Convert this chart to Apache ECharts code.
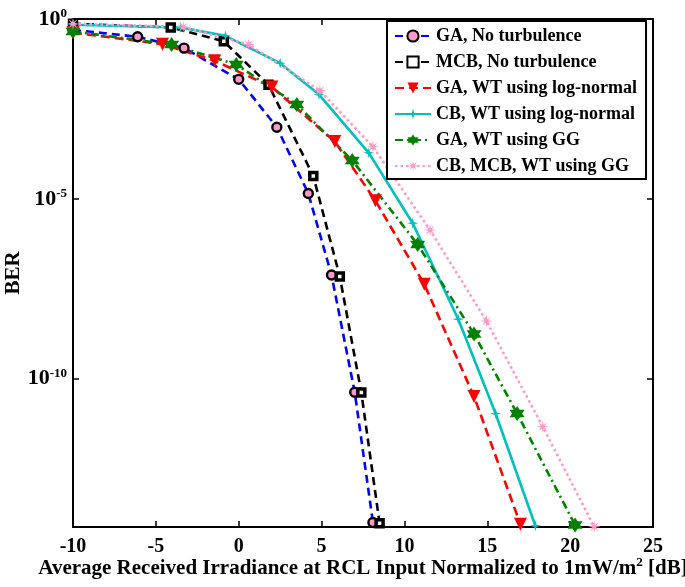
<!DOCTYPE html>
<html>
<head>
<meta charset="utf-8">
<script src="https://cdn.jsdelivr.net/npm/echarts@6/dist/echarts.min.js"></script>
<style>html,body{margin:0;padding:0;background:#fff}#c{width:685px;height:587px}</style>
</head>
<body>
<div id="c"></div>
<script>
// ---- data ----
const seriesNames = ['GA, No turbulence', 'MCB, No turbulence', 'GA, WT using log-normal',
  'CB, WT using log-normal', 'GA, WT using GG', 'CB, MCB, WT using GG'];

const gaNoX   = [-10, -6.1, -3.3, 0, 2.3, 4.2, 5.6, 7.0, 8.1];
const gaNoY   = [0.5, 0.32, 0.155, 0.021, 9.8e-4, 1.4e-5, 7.6e-8, 4.2e-11, 1.0e-14];

const mcbNoX  = [-10, -4.1, -0.9, 1.8, 4.5, 6.1, 7.4, 8.5];
const mcbNoY  = [0.74, 0.58, 0.24, 0.0148, 4.3e-5, 6.9e-8, 4.1e-11, 9.5e-15];

const gaLnX   = [-10, -4.6, -1.45, 2.0, 5.8, 8.25, 11.2, 14.2, 17.0];
const gaLnY   = [0.42, 0.2, 0.069, 0.0129, 3.9e-4, 8.9e-6, 4.2e-8, 3.2e-11, 8.9e-15];

const cbLnX   = [-10, -3.5, -0.8, 2.5, 4.85, 7.85, 10.5, 13.25, 15.5, 17.9];
const cbLnY   = [0.69, 0.58, 0.34, 0.059, 0.0079, 1.9e-4, 2.1e-6, 4.5e-9, 1.07e-11, 8.1e-15];

const gaGgX   = [-10, -4.05, -0.15, 3.5, 6.85, 10.8, 14.2, 16.8, 20.3];
const gaGgY   = [0.45, 0.195, 0.054, 0.0042, 1.17e-4, 5.4e-7, 1.74e-9, 1.07e-11, 8.5e-15];

const cbGgX   = [-10, -3.35, 0.6, 4.9, 8.1, 11.55, 14.95, 18.35, 21.45];
const cbGgY   = [0.74, 0.6, 0.195, 0.0102, 2.8e-4, 1.35e-6, 4.0e-9, 4.6e-12, 7.6e-15];

const xTicks = [-10, -5, 0, 5, 10, 15, 20, 25];
const yTicks = [1e-10, 1e-5, 1];
const yMin = 7.5e-15, yMax = 1;

// ---- chart ----
const FONT = '"Liberation Serif", "Times New Roman", serif';
const pair = (xs, ys) => xs.map((x, i) => [x, ys[i]]);

const HEX = 'path://M0,-10 L2.9,-5 L8.66,-5 L5.8,0 L8.66,5 L2.9,5 L0,10 L-2.9,5 L-8.66,5 L-5.8,0 L-8.66,-5 L-2.9,-5 Z';
const STAR4 = 'path://M0,-10 L2,-2 L10,0 L2,2 L0,10 L-2,2 L-10,0 L-2,-2 Z';
const STAR8 = 'path://M0,-10 L1.15,-2.77 L7.07,-7.07 L2.77,-1.15 L10,0 L2.77,1.15 L7.07,7.07 L1.15,2.77 L0,10 L-1.15,2.77 L-7.07,7.07 L-2.77,1.15 L-10,0 L-2.77,-1.15 L-7.07,-7.07 L-1.15,-2.77 Z';

function mk(name, data, color, lineType, symbol, size, itemStyle, extra) {
  return Object.assign({
    name, type: 'line', data, clip: false,
    symbol, symbolSize: size, showAllSymbol: true,
    lineStyle: { color, width: 2.6, type: lineType },
    itemStyle: Object.assign({ color }, itemStyle || {}),
    emphasis: { disabled: true },
    z: 3
  }, extra || {});
}

const series = [
  mk(seriesNames[0], pair(gaNoX, gaNoY), '#0000ff', [8, 5], 'circle', 9,
     { color: '#ff99cc', borderColor: '#000', borderWidth: 2.4 }),
  mk(seriesNames[1], pair(mcbNoX, mcbNoY), '#000000', [8, 5], 'rect', 7,
     { color: '#ffffff', borderColor: '#000', borderWidth: 3.5 }),
  mk(seriesNames[2], pair(gaLnX, gaLnY), '#ff0000', [9, 5], 'triangle', 13,
     { color: '#ff0000' }, { symbolRotate: 180 }),
  mk(seriesNames[3], pair(cbLnX, cbLnY), '#00bfbf', 'solid', STAR4, 11,
     { color: '#00bfbf' }),
  mk(seriesNames[4], pair(gaGgX, gaGgY), '#008000', [8, 4, 2, 4], HEX, 15,
     { color: '#008000' }),
  mk(seriesNames[5], pair(cbGgX, cbGgY), '#ff99c8', [2.5, 3], STAR8, 13,
     { color: '#ff99c8' })
];

const axisLineStyle = { color: '#000', width: 2 };
const tick = { show: true, inside: true, length: 6, lineStyle: { color: '#000', width: 1.5 } };

const option = {
  backgroundColor: '#fff',
  animation: false,
  textStyle: { fontFamily: FONT },
  grid: { left: 73, right: 32, top: 19, bottom: 60, containLabel: false, outerBoundsMode: 'none' },
  legend: {
    orient: 'vertical', left: 387, top: 21,
    data: seriesNames,
    backgroundColor: '#fff', borderColor: '#000', borderWidth: 2,
    padding: [6, 9, 4, 7],
    itemWidth: 36, itemHeight: 14, itemGap: 8,
    textStyle: { fontFamily: FONT, fontWeight: 'bold', fontSize: 18, color: '#000' },
    z: 10
  },
  xAxis: [{
    type: 'value', min: xTicks[0], max: xTicks[xTicks.length - 1], interval: 5,
    position: 'bottom',
    axisLine: { show: true, lineStyle: axisLineStyle, onZero: false },
    axisTick: tick, splitLine: { show: false },
    axisLabel: { color: '#000', fontFamily: FONT, fontWeight: 'bold', fontSize: 20, margin: 10 },
    name: '{t|Average Received Irradiance at RCL Input Normalized to 1mW/m}{s|2}{t| [dB]}',
    nameLocation: 'middle', nameGap: 29, nameMoveOverlap: false,
    nameTextStyle: {
      rich: {
        t: { fontFamily: FONT, fontWeight: 'bold', fontSize: 21, color: '#000', lineHeight: 26 },
        s: { fontFamily: FONT, fontWeight: 'bold', fontSize: 13, color: '#000', verticalAlign: 'top', lineHeight: 26, padding: [0, 0, 14, 0] }
      }
    }
  }, {
    type: 'value', min: xTicks[0], max: xTicks[xTicks.length - 1], interval: 5,
    position: 'top',
    axisLine: { show: true, lineStyle: axisLineStyle, onZero: false },
    axisTick: tick, axisLabel: { show: false }, splitLine: { show: false }
  }],
  yAxis: [{
    type: 'log', logBase: 100000, min: yMin, max: yMax,
    position: 'left',
    axisLine: { show: true, lineStyle: axisLineStyle, onZero: false },
    axisTick: Object.assign({ customValues: yTicks }, tick), minorTick: { show: false }, splitLine: { show: false },
    axisLabel: {
      margin: 6,
      customValues: yTicks,
      formatter: v => '{b|10}{s|' + Math.round(Math.log10(v)) + '}',
      rich: {
        b: { fontFamily: FONT, fontWeight: 'bold', fontSize: 22, color: '#000', lineHeight: 24 },
        s: { fontFamily: FONT, fontWeight: 'bold', fontSize: 13, color: '#000', verticalAlign: 'top', lineHeight: 24, padding: [0, 0, 16, 0] }
      }
    },
    name: 'BER', nameLocation: 'middle', nameGap: 49, nameRotate: 90, nameMoveOverlap: false,
    nameTextStyle: { fontFamily: FONT, fontWeight: 'bold', fontSize: 21, color: '#000' }
  }, {
    type: 'log', logBase: 100000, min: yMin, max: yMax,
    position: 'right',
    axisLine: { show: true, lineStyle: axisLineStyle, onZero: false },
    axisTick: Object.assign({ customValues: yTicks }, tick), axisLabel: { show: false }, splitLine: { show: false }
  }],
  series
};

const chart = echarts.init(document.getElementById('c'), null, { renderer: 'canvas' });
chart.setOption(option);
</script>
</body>
</html>
